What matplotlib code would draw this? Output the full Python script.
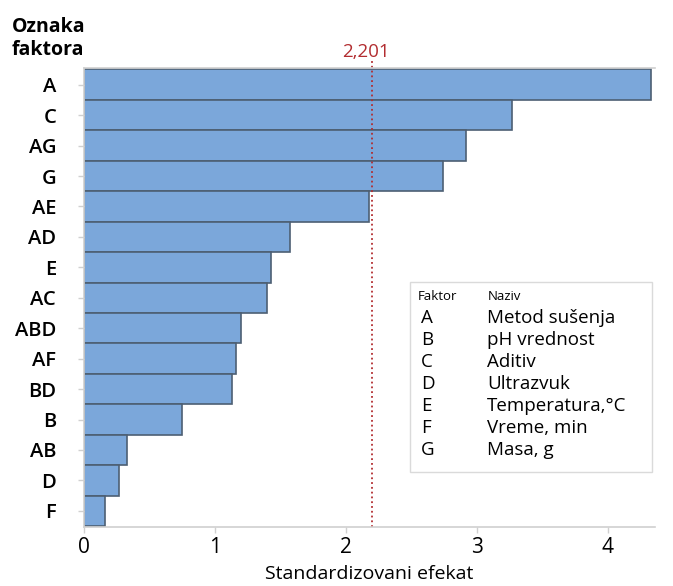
import matplotlib
matplotlib.use("Agg")
import matplotlib.pyplot as plt
from matplotlib.patches import Rectangle

plt.rcParams["font.family"] = ["Open Sans", "DejaVu Sans"]

terms = ["A", "C", "AG", "G", "AE", "AD", "E", "AC", "ABD", "AF", "BD", "B", "AB", "D", "F"]
effects = [4.33, 3.27, 2.92, 2.74, 2.18, 1.57, 1.43, 1.40, 1.20, 1.16, 1.13, 0.75, 0.33, 0.27, 0.16]
ref_value = 2.201
ref_label = "2,201"

factors = ["A", "B", "C", "D", "E", "F", "G"]
names = ["Metod sušenja", "pH vrednost", "Aditiv", "Ultrazvuk",
         "Temperatura,\u00b0C", "Vreme, min", "Masa, g"]

bar_color = "#7BA7DA"
edge_color = "#4D5F73"
red = "#B22D30"
grey = "#D0D0D0"

fig = plt.figure(figsize=(6.73, 5.86), dpi=100)
ax = fig.add_axes([0.1248, 0.1007, 0.8482, 0.7833])

pos = list(range(len(terms)))
ax.barh(pos, effects, height=1.0, color=bar_color, edgecolor=edge_color, linewidth=1.2)
ax.set_ylim(len(terms) - 0.5 + 0.03, -0.5 - 0.05)
ax.set_xlim(0, 4.36)

ax.axvline(ref_value, color=red, linestyle=":", linewidth=1.3, ymin=0, ymax=1.02, clip_on=False)
ax.text(ref_value - 0.05, -0.78, ref_label, color=red, fontsize=13.5, ha="center", va="bottom")

ax.set_yticks(pos)
ax.set_yticklabels(terms, fontsize=14.5, fontweight="semibold")
ax.set_xticks([0, 1, 2, 3, 4])
ax.set_xticklabels(["0", "1", "2", "3", "4"], fontsize=15)
ax.tick_params(axis="both", colors=grey, length=4, width=1)
for lab in ax.get_yticklabels() + ax.get_xticklabels():
    lab.set_color("black")
ax.tick_params(axis="y", pad=16)
ax.tick_params(axis="x", pad=3)

for s in ["left", "bottom", "top"]:
    ax.spines[s].set_color(grey)
    ax.spines[s].set_linewidth(1.2)
ax.spines["right"].set_visible(False)

ax.set_xlabel("Standardizovani efekat", fontsize=14, labelpad=5)
fig.text(12 / 673, 1 - 32 / 586, "Oznaka", fontsize=14, fontweight="bold", ha="left", va="baseline")
fig.text(12 / 673, 1 - 55 / 586, "faktora", fontsize=14, fontweight="bold", ha="left", va="baseline")

# legend box with factor names
lx0, ly0, lw, lh = 410 / 673, 1 - 472 / 586, 242 / 673, 190 / 586
fig.patches.append(Rectangle((lx0, ly0), lw, lh, transform=fig.transFigure,
                             facecolor="white", edgecolor="#DADADA", linewidth=1))
fig.text(418 / 673, 1 - 296 / 586, "Faktor", fontsize=9.5, va="center")
fig.text(488 / 673, 1 - 296 / 586, "Naziv", fontsize=9.5, va="center")
for i, (f, n) in enumerate(zip(factors, names)):
    y = 1 - (318 + i * 22) / 586
    fig.text(421 / 673, y, f, fontsize=13.5, va="center")
    fig.text(487 / 673, y, n, fontsize=13.5, va="center")

fig.savefig("out.png", dpi=100)
